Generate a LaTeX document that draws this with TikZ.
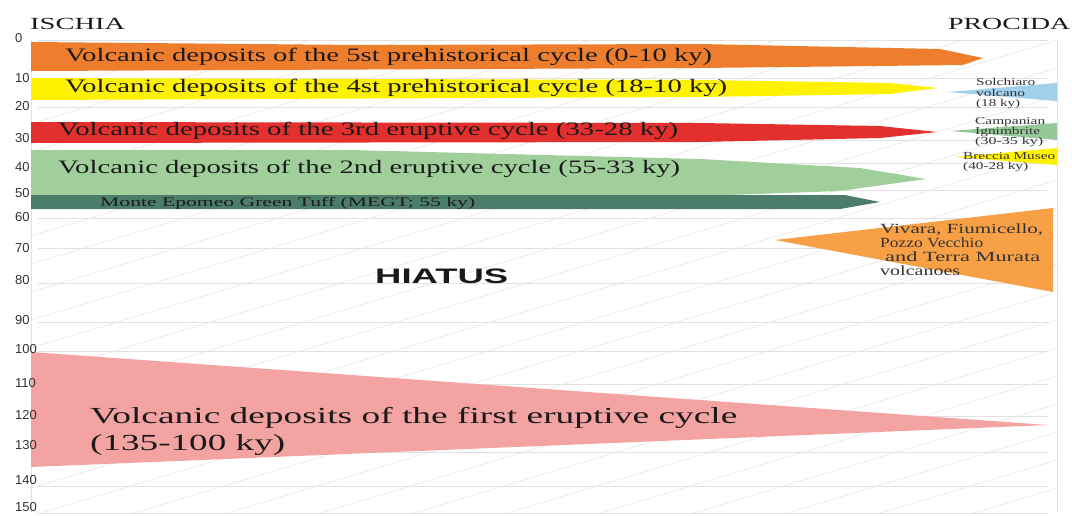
\documentclass[tikz,border=0pt]{standalone}
\usepackage{fontspec}
\setmainfont{Liberation Serif}
\setsansfont{Liberation Sans}
\usepackage{graphicx}
\newcommand{\fitw}[2]{\resizebox{#1pt}{\height}{#2}}
\definecolor{cOrange}{HTML}{EE7E2E}
\definecolor{cYellow}{HTML}{FFF200}
\definecolor{cRed}{HTML}{E3302E}
\definecolor{cGreen}{HTML}{A0CF9B}
\definecolor{cDark}{HTML}{4C7D6A}
\definecolor{cBlue}{HTML}{9FD0EC}
\definecolor{cCamp}{HTML}{95C897}
\definecolor{cViv}{HTML}{F7A046}
\definecolor{cPink}{HTML}{F4A3A3}
\definecolor{txt}{HTML}{1A1A1A}
\definecolor{stxt}{HTML}{333333}
\definecolor{numc}{HTML}{333333}
\definecolor{gridc}{HTML}{E2E2E2}
\definecolor{diagc}{HTML}{EDE4E4}
\begin{document}
\begin{tikzpicture}[x=1pt,y=-1pt,
  lbl/.style={anchor=base west, inner sep=0pt, text=txt},
  slbl/.style={anchor=base west, inner sep=0pt, text=stxt},
  num/.style={anchor=west, inner sep=0pt, text=numc, font=\sffamily\fontsize{13}{13}\selectfont},
  gridline/.style={draw=gridc, line width=1pt},
  diag/.style={draw=diagc, line width=0.6pt},
  band/.style={draw=none}]
\useasboundingbox (0,0) rectangle (1072,515);
\fill[white] (0,0) rectangle (1072,515);
% diagonal hatch
\begin{scope}
\clip (31,40) rectangle (1057,513);
\foreach \i in {0,...,30} \draw[diag] (31,{40+\i*28}) -- ++(1026,-308);
\end{scope}
% grid lines
\foreach \yy in {40,78,107,140,163,190,218,248,283,322,351,384,416,452,486,513}
  \draw[gridline] (38,\yy) -- (1048,\yy);
\draw[gridline] (1057,40) -- (1057,513);
\draw[draw=gridc, line width=0.6pt] (31,40) -- (31,513);
% headers
\node[lbl] (ischia) at (30,29.5) {\fitw{95}{\fontsize{17}{17}\selectfont ISCHIA}};
\node[lbl] (procida) at (948,29.5) {\fitw{122}{\fontsize{17}{17}\selectfont PROCIDA}};
% bands
\fill[cOrange] (31,42) -- (360,45) -- (700,44) -- (940,49) -- (983,58) -- (963,65) -- (700,68) -- (31,71) -- cycle;
\fill[cYellow] (31,78) -- (700,80) -- (890,83) -- (938,88) -- (890,94) -- (700,97) -- (31,100) -- cycle;
\fill[cRed] (31,122) -- (700,123) -- (880,126) -- (937,132) -- (880,138) -- (700,142) -- (31,143) -- cycle;
\fill[cGreen] (31,150) -- (350,150) -- (700,159) -- (860,168) -- (926,179) -- (840,191) -- (700,196) -- (31,196) -- cycle;
\fill[cDark] (31,195) -- (845,195) -- (880,202) -- (840,209) -- (31,209) -- cycle;
\fill[cPink] (31,352) -- (1048,425) -- (31,467) -- cycle;
% Procida shapes
\fill[cBlue] (948,92) -- (1057,83) -- (1057,101) -- cycle;
\fill[cCamp] (950,131) -- (1057,123) -- (1057,140) -- cycle;
\fill[cYellow] (955,157) -- (1057,148) -- (1057,165) -- cycle;
\fill[cViv] (775,240) -- (1053,208) -- (1053,292) -- cycle;
% axis numbers
\foreach \v/\yy in {0/38,10/78,20/106,30/138,40/167,50/193,60/217,70/248,80/280,90/320,100/349,110/383,120/415,130/445,140/480,150/507}
  \node[num] (n\v) at (15,\yy) {\v};
% band texts
\node[lbl] (t5) at (65,61.5) {\fitw{647}{\fontsize{19}{19}\selectfont Volcanic deposits of the 5st prehistorical cycle (0-10 ky)}};
\node[lbl] (t4) at (65,92.5) {\fitw{662}{\fontsize{19}{19}\selectfont Volcanic deposits of the 4st prehistorical cycle (18-10 ky)}};
\node[lbl] (t3) at (58,135) {\fitw{620}{\fontsize{19}{19}\selectfont Volcanic deposits of the 3rd eruptive cycle (33-28 ky)}};
\node[lbl] (t2) at (58,173.5) {\fitw{622}{\fontsize{19}{19}\selectfont Volcanic deposits of the 2nd eruptive cycle (55-33 ky)}};
\node[lbl] (tm) at (100,206.5) {\fitw{375}{\fontsize{13}{13}\selectfont Monte Epomeo Green Tuff (MEGT; 55 ky)}};
\node[lbl] (t1a) at (90,423) {\fitw{647}{\fontsize{23}{23}\selectfont Volcanic deposits of the first eruptive cycle}};
\node[lbl] (t1b) at (90,450) {\fitw{195}{\fontsize{23}{23}\selectfont (135-100 ky)}};
\node[lbl] (hiatus) at (375,283) {\fitw{133}{\sffamily\bfseries\fontsize{21}{21}\selectfont HIATUS}};
% Procida texts
\node[slbl] (s1) at (976,85) {\fitw{59}{\fontsize{10.5}{10.5}\selectfont Solchiaro}};
\node[slbl] (s2) at (976,96) {\fitw{49}{\fontsize{10.5}{10.5}\selectfont volcano}};
\node[slbl] (s3) at (976,106.5) {\fitw{44}{\fontsize{10.5}{10.5}\selectfont (18 ky)}};
\node[slbl] (c1) at (975,124) {\fitw{70}{\fontsize{10.5}{10.5}\selectfont Campanian}};
\node[slbl] (c2) at (975,134) {\fitw{65}{\fontsize{10.5}{10.5}\selectfont Ignimbrite}};
\node[slbl] (c3) at (975,144) {\fitw{68}{\fontsize{10.5}{10.5}\selectfont (30-35 ky)}};
\node[slbl] (b1) at (963,159) {\fitw{92}{\fontsize{10.5}{10.5}\selectfont Breccia Museo}};
\node[slbl] (b2) at (963,169) {\fitw{65}{\fontsize{10.5}{10.5}\selectfont (40-28 ky)}};
\node[slbl] (v1) at (880,233) {\fitw{163}{\fontsize{14}{14}\selectfont Vivara, Fiumicello,}};
\node[slbl] (v2) at (880,247) {\fitw{103}{\fontsize{14}{14}\selectfont Pozzo Vecchio}};
\node[slbl] (v3) at (885,261) {\fitw{155}{\fontsize{14}{14}\selectfont and Terra Murata}};
\node[slbl] (v4) at (880,275) {\fitw{80}{\fontsize{14}{14}\selectfont volcanoes}};
\end{tikzpicture}
\end{document}
